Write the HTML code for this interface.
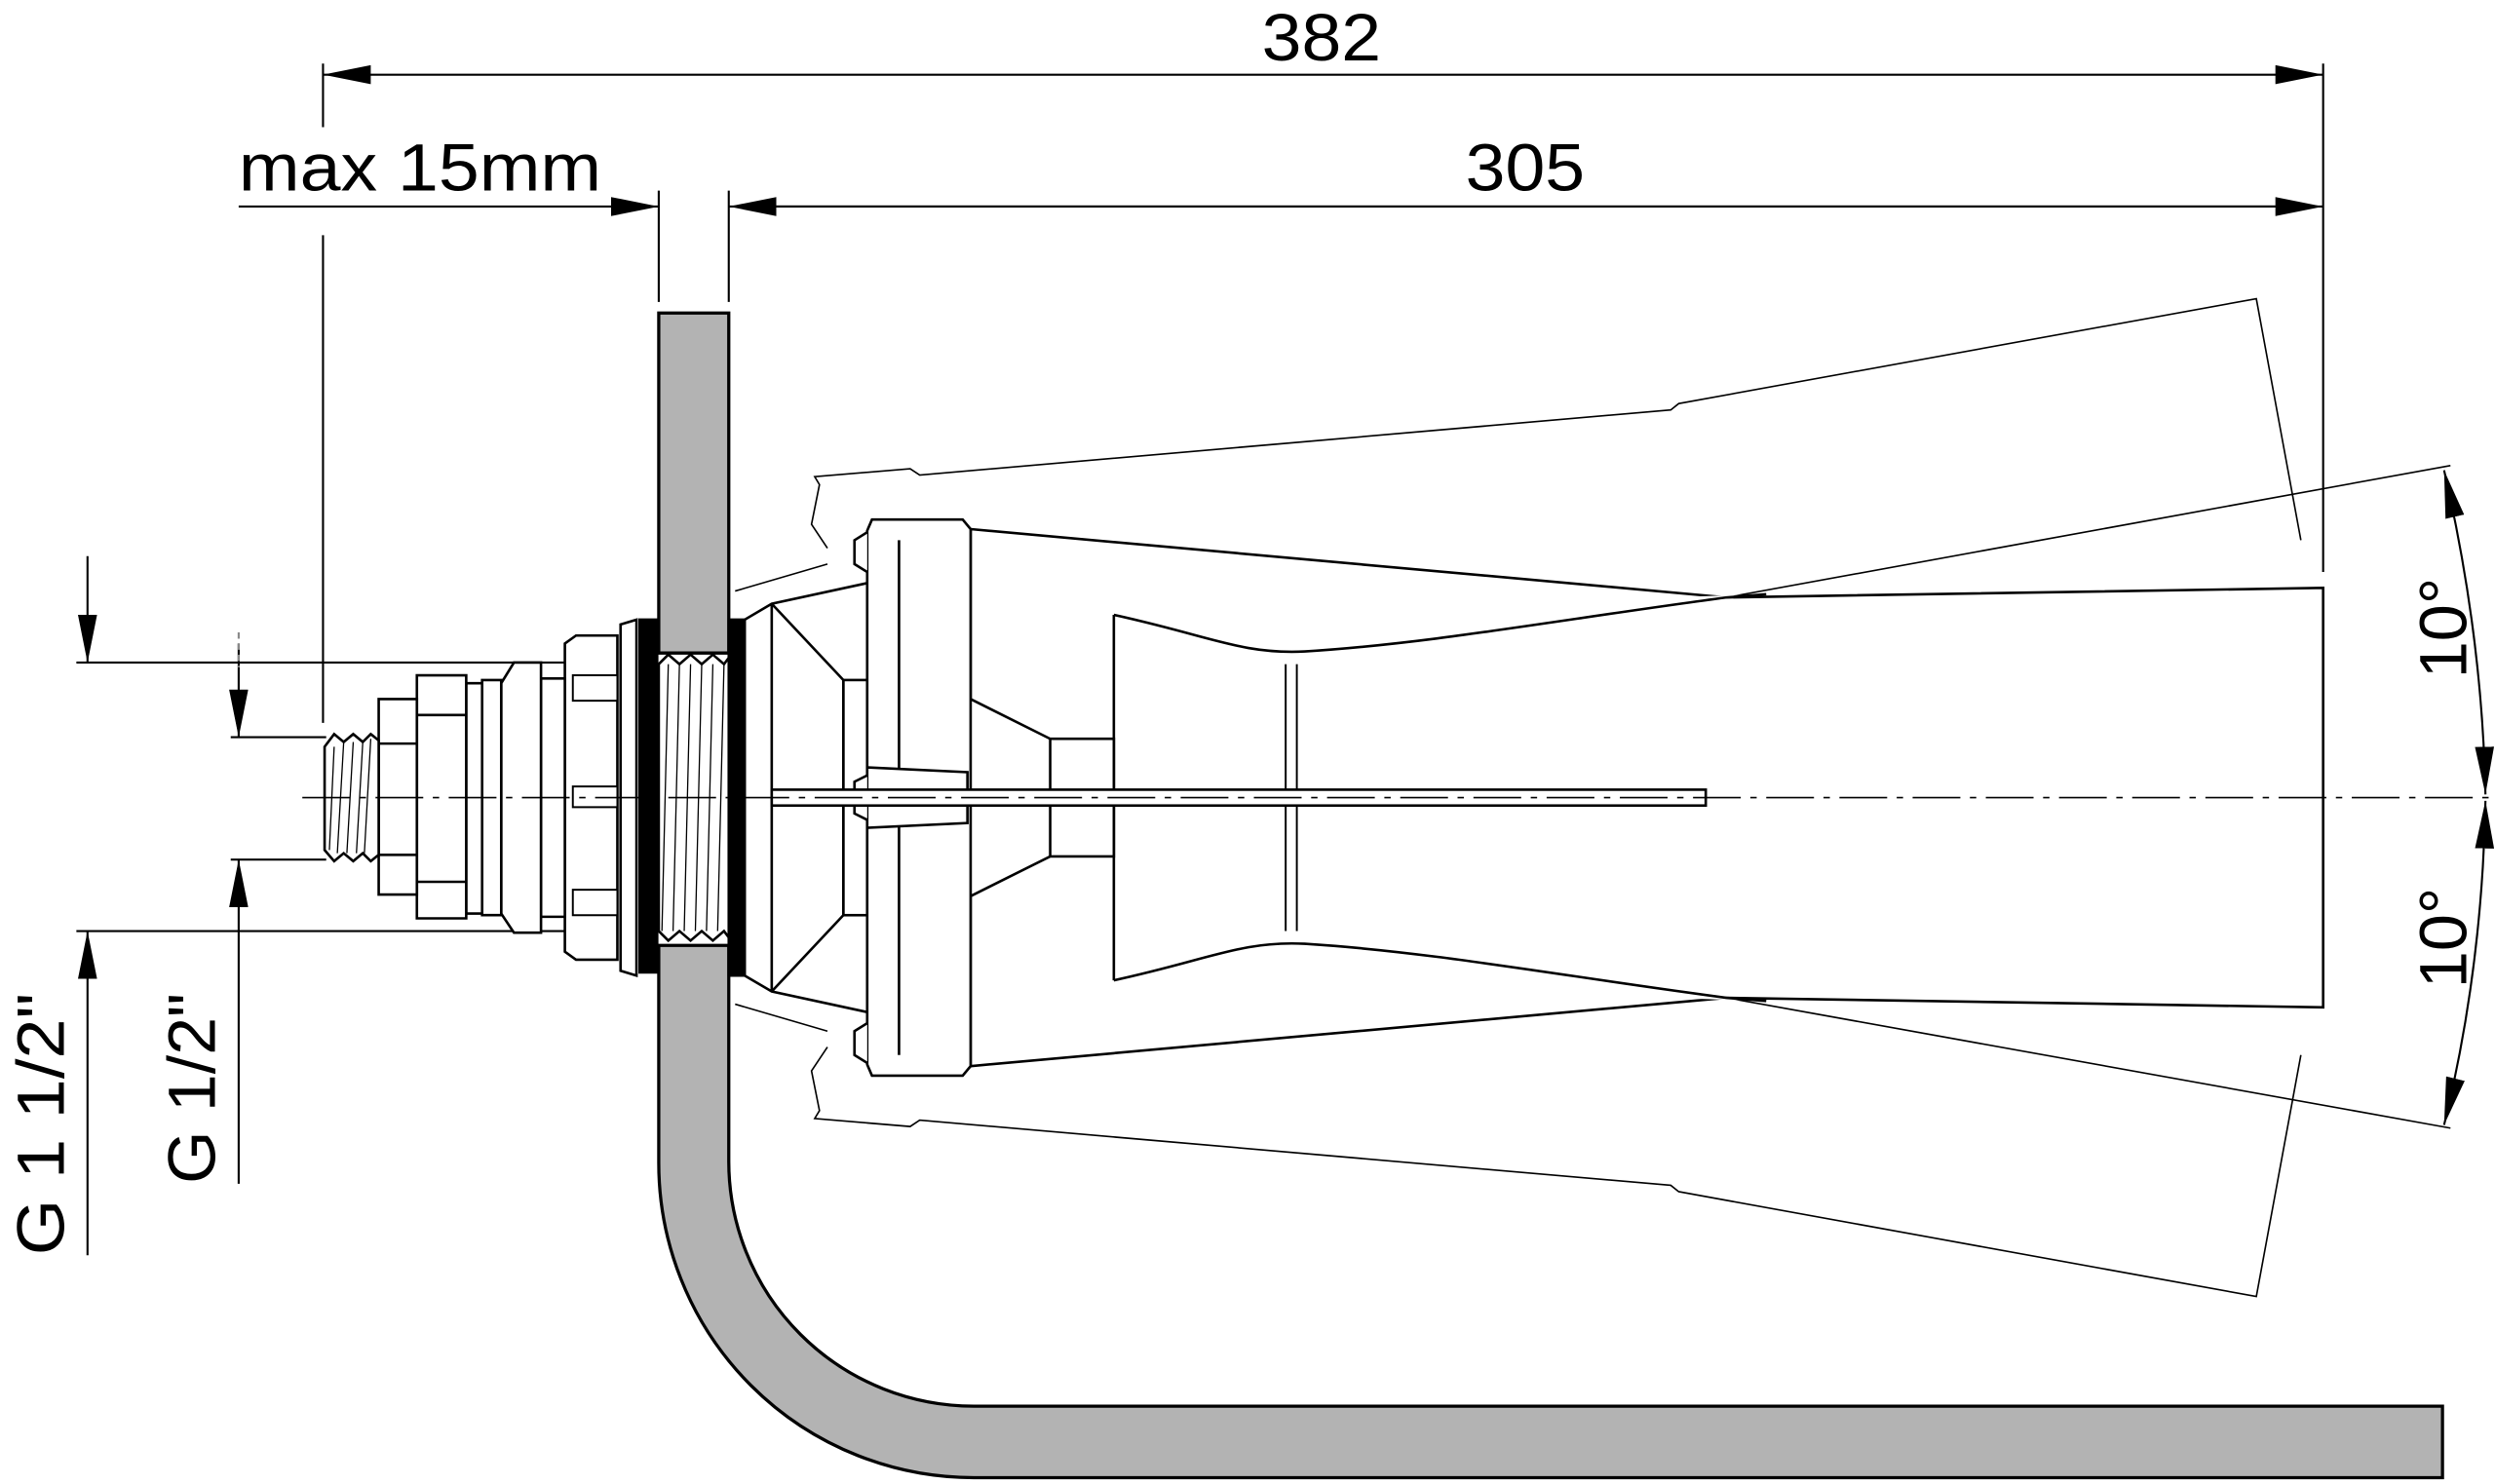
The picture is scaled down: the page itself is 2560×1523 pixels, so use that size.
<!DOCTYPE html>
<html><head><meta charset="utf-8"><style>
html,body{margin:0;padding:0;background:#fff;}
svg{display:block;}
text{font-family:"Liberation Sans",sans-serif;fill:#000;}
</style></head><body>
<svg width="2560" height="1523" viewBox="0 0 1568 934" preserveAspectRatio="none" xmlns="http://www.w3.org/2000/svg">
<defs>
<marker id="a" viewBox="0 0 30 12" refX="30" refY="6" markerWidth="30" markerHeight="12" markerUnits="userSpaceOnUse" orient="auto"><path d="M0,0 L30,6 L0,12 z" fill="#000"/></marker>
<marker id="b" viewBox="0 0 30 12" refX="30" refY="6" markerWidth="30" markerHeight="12" markerUnits="userSpaceOnUse" orient="auto-start-reverse"><path d="M0,0 L30,6 L0,12 z" fill="#000"/></marker>
</defs>
<g stroke="#000" fill="none" stroke-width="1.3">
<!-- wall -->
<path d="M414,197 H458 V411 H414 Z" fill="#b3b3b3" stroke-width="2"/>
<path d="M414,595 H458 V731 A154,154 0 0 0 612,885 H1535 V930 H612 A198,198 0 0 1 414,732 Z" fill="#b3b3b3" stroke-width="2"/>
<!-- dimension 382 -->
<line x1="203" y1="40" x2="203" y2="80"/>
<line x1="1460" y1="40" x2="1460" y2="360"/>
<line x1="233" y1="47" x2="203" y2="47" marker-end="url(#a)"/>
<line x1="230" y1="47" x2="1460" y2="47" marker-end="url(#a)"/>
<!-- 305 -->
<line x1="414" y1="120" x2="414" y2="190"/>
<line x1="458" y1="120" x2="458" y2="190"/>
<line x1="1430" y1="130" x2="458" y2="130" marker-end="url(#a)"/>
<line x1="480" y1="130" x2="1460" y2="130" marker-end="url(#a)"/>
<line x1="150" y1="130" x2="414" y2="130" marker-end="url(#a)"/>
<line x1="203" y1="148" x2="203" y2="455"/>
<!-- G 1 1/2 -->
<line x1="48" y1="417" x2="360" y2="417"/>
<line x1="48" y1="586" x2="360" y2="586"/>
<line x1="55" y1="350" x2="55" y2="417" marker-end="url(#a)"/>
<line x1="55" y1="790" x2="55" y2="586" marker-end="url(#a)"/>
<!-- G 1/2 -->
<line x1="145" y1="464" x2="205" y2="464"/>
<line x1="145" y1="541" x2="205" y2="541"/>
<line x1="150" y1="405" x2="150" y2="464" marker-end="url(#a)"/>
<line x1="150" y1="745" x2="150" y2="541" marker-end="url(#a)"/>
<line x1="150" y1="398" x2="150" y2="420" stroke-dasharray="4,3" stroke="#888"/>
<!-- angle arcs -->
<path d="M1536,296 Q1560,400 1562,500" marker-start="url(#b)" marker-end="url(#b)"/>
<path d="M1562,504 Q1560,610 1536,708" marker-start="url(#b)" marker-end="url(#b)"/>
<!-- ghost outlines -->
<g stroke-width="1">
<path d="M520,355 L462,372 M520,345 L510,330 L515,305 L512,300 L572,295 L578,299 L1050,258 L1055,254 L1418,188 L1446,340"/>
<path d="M520,649 L462,632 M520,659 L510,674 L515,699 L512,704 L572,709 L578,705 L1050,746 L1055,750 L1418,816 L1446,664"/>
<line x1="1085" y1="376" x2="1540" y2="293"/>
<line x1="1085" y1="628" x2="1540" y2="710"/>
</g>
<!-- nozzle body -->
<g stroke-width="1.6" fill="#fff">
<path d="M610,333 L1085,376 L1460,370 V634 L1085,628 L610,671 Z"/>
<path d="M700,387 C760,400 780,412 820,410 C900,405 980,390 1085,376 L1110,374"/>
<path d="M700,617 C760,604 780,592 820,594 C900,599 980,614 1085,628 L1110,630"/>
<path d="M700,387 V617"/>
<path d="M610,440 L660,465 H700 V539 H660 L610,564"/>
<line x1="660" y1="465" x2="660" y2="539"/>
<line x1="808" y1="418" x2="808" y2="586" stroke-width="1.2"/>
<line x1="815" y1="418" x2="815" y2="586" stroke-width="1.2"/>
<!-- cone -->
<path d="M468,390 L485,380 L545,367 V637 L485,624 L468,614 Z"/>
<path d="M485,380 L530,428 V576 L485,624" fill="none"/>
<line x1="485" y1="380" x2="485" y2="624"/>
<rect x="530" y="428" width="15" height="148" fill="none"/>
<!-- flange -->
<path d="M548,327 H605 L610,333 V671 L605,677 H548 L545,670 V334 Z"/>
<line x1="565" y1="340" x2="565" y2="664"/>
<path d="M545,335 L537,340 V355 L545,360 M545,644 L537,649 V664 L545,669"/>
<path d="M545,483 L608,486 V518 L545,521 Z"/>
<path d="M545,488 L537,492 V512 L545,516"/>
<!-- rod -->
<rect x="485" y="497" width="587" height="10"/>
<!-- fitting -->
<path d="M458,390 H468 V614 H458 Z" fill="#000"/>
<path d="M402,390 H413 V612 H402 Z" fill="#000"/>
<path d="M390,393 L400,390 V614 L390,611 Z"/>
<path d="M355,405 L362,400 H388 V604 H362 L355,599 Z"/>
<path d="M360,425 H388 V441 H360 Z M360,495 H388 V508 H360 Z M360,560 H388 V576 H360 Z" stroke-width="1.2"/>
<path d="M340,427 H355 V577 H340 Z"/>
<path d="M323,417 H340 V587 H323 L315,575 V430 Z"/>
<path d="M303,428 H315 V576 H303 Z"/>
<path d="M293,430 H303 V575 H293 Z"/>
<path d="M262,425 H293 V578 H262 Z"/>
<line x1="262" y1="450" x2="293" y2="450"/><line x1="262" y1="555" x2="293" y2="555"/>
<path d="M238,440 H262 V563 H238 Z"/>
<line x1="238" y1="468" x2="262" y2="468"/><line x1="238" y1="538" x2="262" y2="538"/>
<path d="M238,466 L233,462 L228,467 L222,462 L216,467 L210,462 L204,470 V535 L210,542 L216,537 L222,542 L228,537 L233,542 L238,538 Z"/>
<path d="M210,470 L207,535 M216,467 L212,537 M222,467 L218,537 M228,467 L224,537 M233,465 L229,537" stroke-width="0.8"/>
<!-- threads in wall -->
<path d="M414,418 L420,412 L427,418 L434,412 L441,418 L448,412 L455,418 L458,414 V590 L455,586 L448,592 L441,586 L434,592 L427,586 L420,592 L414,586 Z"/>
<path d="M420,418 L416,586 M427,418 L423,586 M434,418 L430,586 M441,418 L437,586 M448,418 L444,586 M455,418 L451,586" stroke-width="0.8"/>
</g>
<!-- centerline on top -->
<line x1="190" y1="502" x2="1565" y2="502" stroke-width="1" stroke-dasharray="30,6,4,6"/>
</g>
<!-- texts -->
<text x="793" y="38" font-size="42" textLength="75" lengthAdjust="spacingAndGlyphs">382</text>
<text x="921" y="120" font-size="42" textLength="75" lengthAdjust="spacingAndGlyphs">305</text>
<text x="150" y="120" font-size="42" textLength="228" lengthAdjust="spacingAndGlyphs">max 15mm</text>
<text transform="translate(40,790) rotate(-90)" font-size="42" textLength="165" lengthAdjust="spacingAndGlyphs">G 1 1/2"</text>
<text transform="translate(135,745) rotate(-90)" font-size="42" textLength="120" lengthAdjust="spacingAndGlyphs">G 1/2"</text>
<text transform="translate(1550,427) rotate(-90)" font-size="42">10°</text>
<text transform="translate(1550,622) rotate(-90)" font-size="42">10°</text>
</svg>
</body></html>
